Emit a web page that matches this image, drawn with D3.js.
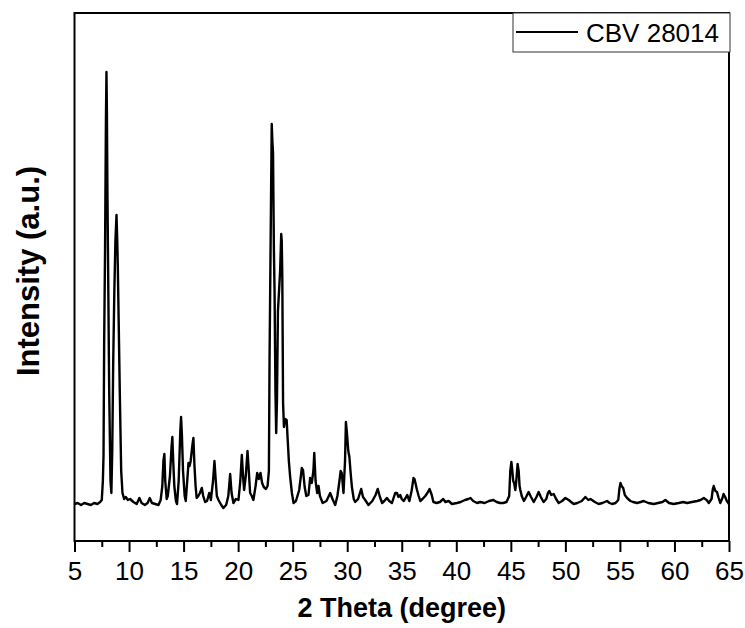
<!DOCTYPE html>
<html>
<head>
<meta charset="utf-8">
<script src="https://cdn.jsdelivr.net/npm/d3@7"></script>
<style>
  body { margin: 0; background: #fff; }
  svg { display: block; }
</style>
</head>
<body>
<div id="chart"></div>
<script>
// XRD pattern, 2 theta in degrees, intensity in a.u.
const twoTheta = [
  5.00, 5.30, 5.60, 5.90, 6.20, 6.50, 6.80, 7.10, 7.35, 7.50,
  7.60, 7.66, 7.72, 7.80, 7.88, 7.93, 7.97, 8.02, 8.10, 8.18,
  8.30, 8.38, 8.46, 8.55, 8.65, 8.75, 8.85, 8.92, 8.97, 9.05,
  9.15, 9.28, 9.40, 9.55, 9.70, 9.90, 10.10, 10.40, 10.70, 10.95,
  11.15, 11.45, 11.70, 11.90, 12.10, 12.40, 12.70, 12.90, 13.05, 13.15,
  13.24, 13.32, 13.45, 13.55, 13.75, 13.90, 13.97, 14.05, 14.15, 14.30,
  14.40, 14.55, 14.70, 14.77, 14.85, 14.95, 15.10, 15.20, 15.30, 15.45,
  15.55, 15.65, 15.80, 15.90, 16.00, 16.10, 16.20, 16.35, 16.50, 16.67,
  16.80, 16.97, 17.15, 17.35, 17.50, 17.70, 17.83, 17.92, 18.05, 18.20,
  18.45, 18.65, 18.90, 19.10, 19.27, 19.40, 19.57, 19.80, 20.03, 20.20,
  20.34, 20.45, 20.55, 20.70, 20.86, 20.95, 21.10, 21.25, 21.40, 21.60,
  21.75, 21.90, 22.05, 22.20, 22.35, 22.55, 22.70, 22.82, 22.88, 22.98,
  23.08, 23.14, 23.20, 23.28, 23.34, 23.42, 23.49, 23.56, 23.65, 23.75,
  23.85, 23.95, 24.00, 24.05, 24.12, 24.20, 24.32, 24.45, 24.55, 24.65,
  24.77, 24.93, 25.08, 25.30, 25.60, 25.84, 25.95, 26.10, 26.25, 26.45,
  26.60, 26.75, 26.90, 26.98, 27.10, 27.25, 27.37, 27.50, 27.75, 28.10,
  28.44, 28.65, 28.90, 29.10, 29.30, 29.40, 29.50, 29.66, 29.80, 29.88,
  29.96, 30.10, 30.20, 30.30, 30.43, 30.60, 30.73, 31.00, 31.28, 31.45,
  31.65, 31.95, 32.30, 32.60, 32.80, 33.00, 33.20, 33.40, 33.64, 33.85,
  34.10, 34.40, 34.56, 34.70, 34.86, 35.00, 35.17, 35.35, 35.50, 35.70,
  35.90, 36.08, 36.17, 36.40, 36.55, 36.70, 36.90, 37.16, 37.35, 37.55,
  37.75, 37.90, 38.20, 38.50, 38.80, 39.00, 39.30, 39.60, 40.06, 40.40,
  40.80, 41.10, 41.30, 41.55, 41.90, 42.20, 42.60, 43.00, 43.40, 43.70,
  44.00, 44.30, 44.60, 44.85, 44.95, 45.05, 45.12, 45.22, 45.30, 45.41,
  45.50, 45.62, 45.72, 45.80, 45.87, 46.00, 46.20, 46.40, 46.63, 46.85,
  47.10, 47.35, 47.55, 47.75, 48.00, 48.25, 48.40, 48.53, 48.70, 48.93,
  49.15, 49.39, 49.70, 50.00, 50.30, 50.76, 51.10, 51.50, 51.83, 52.10,
  52.30, 52.70, 53.05, 53.40, 53.82, 54.05, 54.28, 54.60, 54.85, 54.95,
  55.05, 55.15, 55.30, 55.45, 55.66, 55.96, 56.20, 56.58, 56.90, 57.18,
  57.60, 58.10, 58.50, 58.90, 59.17, 59.50, 59.93, 60.40, 60.80, 61.17,
  61.60, 62.08, 62.40, 62.69, 62.95, 63.15, 63.40, 63.52, 63.60, 63.75,
  63.90, 64.05, 64.20, 64.40, 64.50, 64.65, 64.80, 65.00
];

const intensity = [
  37, 38, 36, 38, 37, 36, 38, 37, 39, 41,
  60, 85, 200, 290, 420, 469, 430, 348, 250, 150,
  60, 48, 90, 180, 248, 300, 326, 300, 275, 220,
  150, 70, 48, 42, 44, 41, 42, 39, 37, 43,
  38, 36, 38, 43, 38, 37, 36, 41, 55, 80,
  87, 60, 42, 45, 65, 95, 104, 80, 55, 40,
  37, 60, 110, 124, 105, 70, 45, 40, 55, 78,
  75, 80, 95, 103, 75, 55, 43, 45, 48, 53,
  45, 39, 40, 48, 41, 60, 80, 65, 45, 41,
  36, 33, 36, 45, 67, 48, 38, 42, 41, 60,
  86, 65, 51, 65, 90, 75, 48, 45, 41, 55,
  68, 62, 68, 58, 54, 52, 55, 70, 180, 300,
  417, 400, 388, 291, 250, 150, 108, 140, 230, 250,
  270, 307, 300, 264, 138, 114, 122, 121, 100, 80,
  64, 48, 38, 40, 51, 73, 71, 54, 45, 46,
  63, 58, 70, 88, 60, 48, 55, 45, 38, 40,
  48, 42, 36, 45, 61, 70, 68, 48, 80, 119,
  110, 90, 84, 70, 54, 42, 39, 42, 52, 44,
  41, 36, 40, 46, 52, 44, 38, 40, 43, 40,
  38, 48, 48, 44, 46, 42, 40, 43, 46, 40,
  50, 63, 62, 51, 45, 40, 42, 45, 48, 52,
  46, 39, 38, 39, 42, 39, 40, 37, 38, 39,
  41, 42, 43, 40, 38, 39, 38, 40, 41, 39,
  38, 38, 39, 45, 70, 79, 72, 60, 58, 51,
  60, 77, 70, 55, 51, 45, 40, 44, 49, 44,
  39, 44, 49, 44, 39, 42, 48, 50, 46, 47,
  42, 38, 40, 43, 41, 37, 38, 40, 44, 41,
  42, 39, 37, 38, 40, 38, 37, 38, 41, 52,
  58, 55, 53, 46, 43, 40, 39, 38, 39, 40,
  38, 37, 38, 39, 41, 38, 37, 38, 39, 38,
  39, 40, 41, 43, 41, 38, 42, 52, 55, 50,
  49, 43, 38, 43, 47, 44, 40, 37
];

const xTicks = [5, 10, 15, 20, 25, 30, 35, 40, 45, 50, 55, 60, 65];
const seriesName = "CBV 28014";

const data = twoTheta.map((t, i) => ({ t: t, v: intensity[i] }));

const W = 745, H = 628;
const margin = { top: 13, right: 16, bottom: 87, left: 74.5 };
const width = W - margin.left - margin.right,
  height = H - margin.top - margin.bottom;

const svg = d3
  .select("#chart")
  .append("svg")
  .attr("width", W)
  .attr("height", H)
  .style("font-family", "'Liberation Sans', Arial, sans-serif");

const g = svg
  .append("g")
  .attr("transform", `translate(${margin.left}, ${margin.top})`);

const x = d3.scaleLinear().domain([5, 65]).range([0, width]);
const y = d3.scaleLinear().domain([0, 528]).range([height, 0]);

// minor ticks
g.append("g")
  .attr("transform", `translate(0, ${height})`)
  .call(d3.axisBottom(x).tickValues(d3.range(7.5, 65, 5)).tickSize(6).tickFormat(""))
  .call((a) => a.select(".domain").remove())
  .selectAll("line")
  .attr("stroke", "#000")
  .attr("stroke-width", 2);

// major ticks
const xAxis = g
  .append("g")
  .attr("transform", `translate(0, ${height})`)
  .call(d3.axisBottom(x).tickValues(xTicks).tickSize(11).tickPadding(10).tickFormat(d3.format("d")));
xAxis.select(".domain").remove();
xAxis.selectAll("line").attr("stroke", "#000").attr("stroke-width", 2);
xAxis
  .selectAll("text")
  .attr("fill", "#000")
  .attr("font-size", "26px")
  .attr("font-family", "'Liberation Sans', Arial, sans-serif");

// frame
g.append("rect")
  .attr("x", 0)
  .attr("y", 0)
  .attr("width", width)
  .attr("height", height)
  .attr("fill", "none")
  .attr("stroke", "#000")
  .attr("stroke-width", 2);

const line = d3
  .line()
  .x((d) => x(d.t))
  .y((d) => y(d.v));

g.append("path")
  .datum(data)
  .attr("d", line)
  .attr("fill", "none")
  .attr("stroke", "#000")
  .attr("stroke-width", 2.4)
  .attr("stroke-linejoin", "round");

// axis titles
svg
  .append("text")
  .attr("x", margin.left + width / 2)
  .attr("y", 617)
  .attr("text-anchor", "middle")
  .attr("font-size", "27px")
  .attr("font-weight", "bold")
  .text("2 Theta (degree)");

svg
  .append("text")
  .attr("transform", `translate(39, ${margin.top + height / 2 - 6}) rotate(-90)`)
  .attr("text-anchor", "middle")
  .attr("font-size", "31px")
  .attr("font-weight", "bold")
  .text("Intensity (a.u.)");

// legend
const lg = svg.append("g");
lg.append("rect")
  .attr("x", 513)
  .attr("y", 13)
  .attr("width", 217)
  .attr("height", 39)
  .attr("fill", "#fff")
  .attr("stroke", "#333")
  .attr("stroke-width", 1);
lg.append("line")
  .attr("x1", 516)
  .attr("x2", 578)
  .attr("y1", 32)
  .attr("y2", 32)
  .attr("stroke", "#000")
  .attr("stroke-width", 2);
lg.append("text")
  .attr("x", 586)
  .attr("y", 42)
  .attr("font-size", "26px")
  .attr("fill", "#000")
  .text(seriesName);
</script>
</body>
</html>
